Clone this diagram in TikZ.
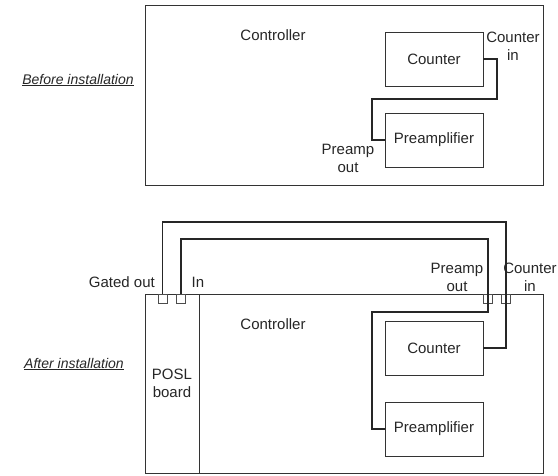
\documentclass[tikz,border=0pt]{standalone}
\usepackage{fontspec}
\setmainfont{Liberation Sans}
\begin{document}
\begin{tikzpicture}[x=1pt,y=-1pt,
  box/.style={draw=black!80,line width=0.9pt,rectangle,inner sep=0pt,font=\fontsize{15}{17}\selectfont,text=black!85},
  port/.style={draw=black!70,line width=0.7pt,rectangle,inner sep=0pt,minimum width=9pt,minimum height=9pt},
  wire/.style={draw=black!85,line width=1.4pt},
  lbl/.style={font=\fontsize{15}{17}\selectfont,text=black!85,align=center,inner sep=0pt},
  ttl/.style={font=\fontsize{14}{16}\selectfont\itshape,text=black!85,inner sep=0pt}]
\useasboundingbox (0,0) rectangle (558,475);
% ---- Before installation ----
\node[box,minimum width=398pt,minimum height=180pt] (ctrl1) at (344,95) {};
\node[lbl] (ctrllbl1) at (273,35) {Controller};
\node[box,minimum width=98pt,minimum height=54pt] (cnt1) at (434,59) {Counter};
\node[box,minimum width=98pt,minimum height=54pt] (pre1) at (434,140) {Preamplifier};
\node[lbl] (cin1) at (513,46) {Counter\\[1pt]in};
\node[lbl] (pout1) at (348,158) {Preamp\\[1pt]out};
\coordinate (a1) at (497,99);
\coordinate (a2) at (372,99);
\draw[wire] (cnt1.east) -| (a1) -- (a2) |- (pre1.west);
\node[ttl] (before) at (78,80) {\underline{Before installation}};
% ---- After installation ----
\node[box,minimum width=398pt,minimum height=179pt] (ctrl2) at (344,383.5) {};
\node[box,minimum width=54pt,minimum height=179pt,align=center] (posl) at (172,383.5) {POSL\\[1pt]board};
\node[lbl] (ctrllbl2) at (273,324) {Controller};
\node[box,minimum width=98pt,minimum height=54pt] (cnt2) at (434,348) {Counter};
\node[box,minimum width=98pt,minimum height=54pt] (pre2) at (434,429) {Preamplifier};
\node[port] (p1) at (162.5,298.5) {};
\node[port] (p2) at (181,298.5) {};
\node[port] (p3) at (488,298.5) {};
\node[port] (p4) at (506,298.5) {};
\node[lbl,anchor=east] (gout) at (155,282) {Gated out};
\node[lbl] (inl) at (198,282) {In};
\node[lbl] (pout2) at (457,277) {Preamp\\[1pt]out};
\node[lbl] (cin2) at (530,277) {Counter\\[1pt]in};
\coordinate (oR) at (506,222);
\coordinate (oB) at (506,348);
\coordinate (iR) at (488,239);
\coordinate (iB) at (488,312);
\coordinate (iL) at (372,312);
\draw[wire] (p1.north) |- (oR) -- (oB) -- (cnt2.east);
\draw[wire] (p2.north) |- (iR) -- (iB) -- (iL) |- (pre2.west);
\node[ttl] (after) at (74,364) {\underline{After installation}};
\end{tikzpicture}
\end{document}
